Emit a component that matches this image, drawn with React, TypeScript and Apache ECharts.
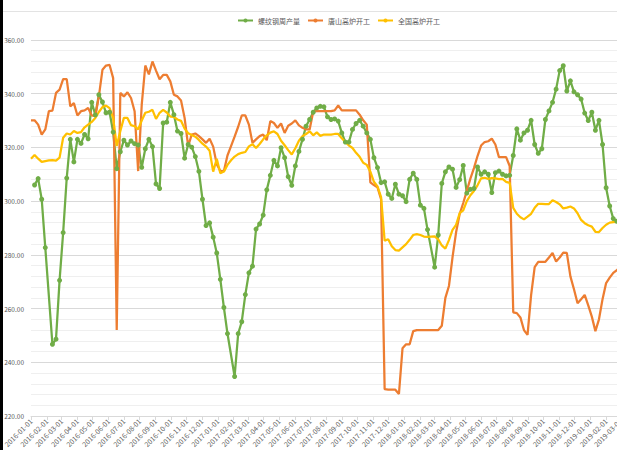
import React, { useEffect, useRef } from "react";
import * as echarts from "echarts";

const seriesNames = ["螺纹钢周产量", "唐山高炉开工", "全国高炉开工"];
const seriesColors = ["#70AD47", "#ED7D31", "#FFC000"];

// weekly series, first week given as [year, monthIndex, day]
const steelStart = [2016, 0, 8];
const steelOutput = [
  306.0, 308.4, 300.7, 282.7, null, 246.7, 248.6, 270.5, 288.3, 308.6,
  323, 314.6, 323, 321.5, 324.8, 323.2, 336.8, 332.1, 339.6, 336.9,
  332.9, 333.1, 325.7, 312.1, 318.4, 322.7, 320.9, 322.4, 321.4, 320.9,
  312.6, 319.5, 323, 320.3, 306.4, 304.7, 329.1, 329.4, 336.8, 332.2,
  326.1, 325.2, 316, 321.1, 320.1, 316.6, 311.1, 300.7, 290.9, 291.9,
  286.6, 280.7, 270.9, 260.4, 250.7, null, 234.7, 250.7, 255.1, 265.2,
  273.3, 275.8, 289.6, 291.5, 294.8, 304.2, 309.6, 315.2, 313.1, 319.9,
  316.2, 309.1, 305.9, 313.1, 318.5, 323, 327.9, 330.4, 333.1, 334.7,
  335.3, 335.1, 331.4, 330.4, 330.6, 329.8, 325.4, 322, 322, 326.7,
  328.9, 330.1, 327.9, 325.4, 323, 316.2, 312.5, 306.9, 307.2, 302.6,
  301, 306.3, 302.6, 302, 299.8, 308.1, 310.4, 308.1, 298.5, 297.3,
  289.4, null, 275.4, 287.4, 306.6, 310.9, 312.7, 311.9, 305.1, 308,
  313.3, 303, 304.4, 304.7, 312.7, 310, 310.9, 310, 303.2, 310.6,
  311.2, 310, 309.4, 309.6, 317, 326.9, 322.7, 325.4, 326.4, 330.1,
  321.1, 317.8, 319.5, 330.4, 333.6, 336.8, 341.7, 348.6, 350.4, 341,
  344.8, 340.7, 339.6, 338, 332.8, 330, 333.1, 326.4, 330.1, 321.1,
  305, 298.2, 293.5, 292.5,
];

const rateStart = [2016, 0, 1];
const tangshanRate = [
  330.1, 330.1, 328.5, 324.8, 326.7, 333.5, 333.7, 340.3, 341.5, 345.4,
  345.4, 335.3, 336.5, 331.9, 333.5, 333.8, 334.7, 331.9, 331.6, 339,
  348.9, 350.5, 350.7, 345.8, 252, 340.3, 339, 340.5, 338.4, 333.5,
  311.2, 335.9, 350.5, 347.2, 352, 348.6, 345.4, 347, 347, 344.6,
  339.6, 339, 337.5, 331, 320.5, 324.8, 325.2, 324.2, 323, 321.7,
  323.2, 320.3, 313.7, 311.2, 311.2, 317, 320.5, 324, 327.7, 331.9,
  331.9, 328.5, 321.7, 323, 324.2, 324.8, 322.7, 329.8, 329.1, 327.3,
  328.9, 325.4, 328.1, 328.9, 330.1, 328.2, 327.3, 326.7, 326.7, 333.3,
  333.5, 333.5, 333.5, 333.5, 333.5, 333.8, 335.6, 333.8, 333.8, 333.8,
  333.8, 333.8, 332.2, 330.1, 328.5, 307, 306, 305.1, 300.7, 230,
  229.8, 229.8, 229.8, 228.2, 245.2, 246.7, 246.7, 251.6, 252, 252,
  252, 252, 252, 252, 252, 253.6, 264, 268.4, 279.1, 288.4,
  295.2, 299.3, 303.8, 308.4, 312.3, 316.8, 320.7, 322, 322.3, 323.3,
  321.1, 316.4, 316.4, 316.4, 313.1, 258.6, 258.3, 256.7, 252, 250.2,
  265, 275.4, 277.4, 277.4, 277.4, 279, 280.7, 277.5, 279, 280.8,
  280.7, 272, 267.2, 262, 263.5, 265.1, 261.2, 257, 251.6, 256,
  263.5, 269.5, 271.5, 273.3, 274.3, 275.5,
];
const nationalRate = [
  315.8, 317.2, 315.8, 314.6, 314.9, 315.2, 315.3, 315.1, 316.2, 323.6,
  325.2, 324.8, 326.1, 325.4, 325.7, 327.5, 328.5, 329.5, 331, 333.2,
  335, 335.6, 334.6, 331, 320.5, 326, 331, 331, 328.3, 327.9,
  326.7, 330, 332.9, 333.3, 334, 330.6, 332.9, 334, 333, 331.5,
  331.4, 330.4, 329.9, 327, 325.3, 324.6, 324, 322.8, 321.4, 320.3,
  318.8, 311, 315.8, 310.4, 311, 313.5, 315.2, 316.6, 317.5, 318,
  318.3, 320.4, 321.2, 319.8, 321.3, 323, 324.5, 325.5, 326, 325,
  322.5, 320.8, 319, 317.4, 319.7, 322.5, 324.2, 325, 326, 324.5,
  325.6, 324.3, 324.8, 324.8, 324.8, 325, 325, 323.4, 322, 320.7,
  319.8, 318, 316.5, 314.3, 313.5, 311, 307.2, 305.5, 301.5, 285.3,
  285.8, 283.2, 281.8, 281.6, 282.8, 284, 285.6, 287.4, 287.7, 287.4,
  286.8, 286.7, 286.8, 286.9, 285.8, 283.5, 282.3, 285.5, 289.3, 291.2,
  295.5, 296.6, 300, 302.2, 303.8, 305.9, 308.5, 308.7, 308.3, 308.6,
  308.5, 308.2, 308.3, 307.2, 306.8, 297.5, 295.3, 294, 293.2, 294.2,
  295.3, 297.5, 299, 299, 298.9, 298.9, 300.3, 299.7, 298.8, 297.3,
  297.6, 298, 297.3, 295.5, 293, 291.8, 291, 290.5, 288.6, 288.5,
  290, 291.2, 292, 292.2, 292.3, 292.3,
];

// axes
const yMin = 220;
const yMax = 360;
const yStep = 20;
const xFirstDay = [2016, 0, 1];
const xLastDay = [2019, 2, 10];
const monthTicks: number[] = [];
for (let y = 2016; y <= 2019; y++) {
  for (let m = 0; m < 12; m++) {
    if (y === 2019 && m > 2) break;
    monthTicks.push(Date.UTC(y, m, 1));
  }
}

const pad = (n: number) => (n < 10 ? "0" + n : "" + n);
const fmtDate = (v: number) => {
  const d = new Date(v);
  return `${d.getUTCFullYear()}-${pad(d.getUTCMonth() + 1)}-${pad(d.getUTCDate())}`;
};
const weekly = (start: number[], vals: (number | null)[]) =>
  vals.map((v, i) => [Date.UTC(start[0], start[1], start[2] + 7 * i), v]);

const FONT = "'Noto Sans CJK SC', 'Noto Sans', sans-serif";
const TXT = "#595959";

export default function App() {
  const ref = useRef<HTMLDivElement>(null);
  useEffect(() => {
    if (!ref.current) return;
    const chart = echarts.init(ref.current, undefined, { renderer: "svg" });
    chart.setOption({
      animation: false,
      backgroundColor: "#ffffff",
      textStyle: { fontFamily: FONT },
      graphic: [
        { type: "rect", left: 0, top: 0, shape: { x: 0, y: 0, width: 3, height: 450 }, style: { fill: "#000000" }, z: 100 },
        { type: "line", shape: { x1: 3, y1: 11.5, x2: 640, y2: 11.5 }, style: { stroke: "#e3e3e3", lineWidth: 1 } },
      ],
      legend: {
        left: 237,
        top: 17,
        padding: 0,
        itemWidth: 15,
        itemHeight: 5,
        itemGap: 7,
        data: seriesNames,
        textStyle: { fontSize: 7, color: TXT, fontFamily: FONT },
      },
      grid: { left: 31, top: 40, width: 594, height: 378, containLabel: false },
      xAxis: {
        type: "value",
        min: Date.UTC(xFirstDay[0], xFirstDay[1], xFirstDay[2]),
        max: Date.UTC(xLastDay[0], xLastDay[1], xLastDay[2]),
        scale: true,
        axisLine: { show: true, onZero: false, lineStyle: { color: "#d9d9d9", width: 1 } },
        axisTick: { show: true, length: 4, customValues: monthTicks, lineStyle: { color: "#d9d9d9" } },
        axisLabel: {
          customValues: monthTicks,
          formatter: (v: number) => fmtDate(v),
          rotate: 45,
          fontSize: 7,
          color: TXT,
          margin: 4,
          fontFamily: FONT,
          hideOverlap: false,
          showMinLabel: true,
          showMaxLabel: true,
        },
        splitLine: { show: false },
      },
      yAxis: {
        type: "value",
        min: yMin,
        max: yMax,
        interval: yStep,
        axisLine: { show: false },
        axisTick: { show: false },
        axisLabel: { formatter: (v: number) => v.toFixed(2), fontSize: 6.5, color: TXT, margin: 7, fontFamily: FONT },
        splitLine: { show: true, lineStyle: { color: "#d9d9d9", width: 1 } },
        minorTick: { show: false, splitNumber: 5 },
        minorSplitLine: { show: true, lineStyle: { color: "#efefef", width: 1 } },
      },
      series: [
        {
          name: seriesNames[0],
          type: "line",
          data: weekly(steelStart, steelOutput),
          connectNulls: true,
          symbol: "circle",
          symbolSize: 5,
          showSymbol: true,
          itemStyle: { color: seriesColors[0] },
          lineStyle: { color: seriesColors[0], width: 2.25 },
        },
        {
          name: seriesNames[1],
          type: "line",
          data: weekly(rateStart, tangshanRate),
          symbol: "none",
          showSymbol: false,
          itemStyle: { color: seriesColors[1] },
          lineStyle: { color: seriesColors[1], width: 2.25 },
        },
        {
          name: seriesNames[2],
          type: "line",
          data: weekly(rateStart, nationalRate),
          symbol: "none",
          showSymbol: false,
          itemStyle: { color: seriesColors[2] },
          lineStyle: { color: seriesColors[2], width: 2.25 },
        },
      ],
    });
    return () => chart.dispose();
  }, []);
  return (
    <div style={{ position: "absolute", left: 0, top: 0, width: 617, height: 450, overflow: "hidden", background: "#fff" }}>
      <div ref={ref} style={{ width: 640, height: 450 }} />
    </div>
  );
}
